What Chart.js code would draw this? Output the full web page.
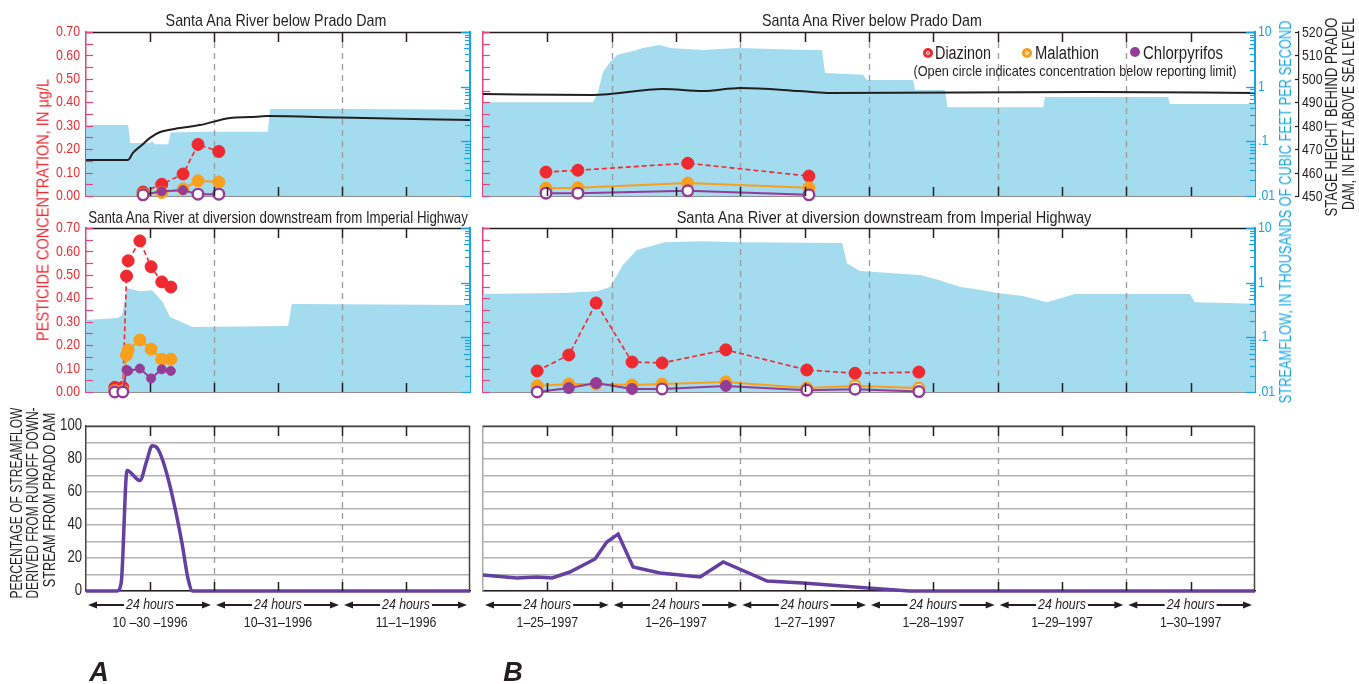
<!DOCTYPE html>
<html>
<head>
<meta charset="utf-8">
<script src="https://cdn.jsdelivr.net/npm/chart.js@4.4.1/dist/chart.umd.min.js"></script>
<style>
  body { margin: 0; background: #fff; }
  #wrap { position: relative; width: 1359px; height: 684px; overflow: hidden;
          font-family: "Liberation Sans", Arial, sans-serif; color: #231f20; }
  #wrap canvas { position: absolute; left: 0; top: 0; }
  .t { position: absolute; white-space: nowrap; line-height: 1; }
  .dot { position: absolute; border-radius: 50%; }
</style>
</head>
<body>
<div id="wrap">
  <canvas id="aTop" width="1359" height="684"></canvas>
  <canvas id="aMid" width="1359" height="684"></canvas>
  <canvas id="aBot" width="1359" height="684"></canvas>
  <canvas id="bTop" width="1359" height="684"></canvas>
  <canvas id="bMid" width="1359" height="684"></canvas>
  <canvas id="bBot" width="1359" height="684"></canvas>
</div>
<script>
// ---- data (hours since start of first day) ----
var aDays = ['10 \u201330 \u20131996', '10\u201331\u20131996', '11\u20131\u20131996'];
var bDays = ['1\u201325\u20131997', '1\u201326\u20131997', '1\u201327\u20131997', '1\u201328\u20131997', '1\u201329\u20131997', '1\u201330\u20131997'];

// A, below Prado Dam
var aTopFlowHours = [0, 7.9, 8.3, 12, 12.4, 12.9, 15.4, 15.9, 22, 34.1, 34.5, 50, 72];
var aTopFlow = [0.2, 0.2, 0.093, 0.093, 0.1, 0.088, 0.088, 0.145, 0.15, 0.15, 0.39, 0.39, 0.38];
var aTopStageHours = [0, 7.9, 8.8, 10.5, 12, 13.9, 17.6, 21.4, 27, 30.8, 34, 47.6, 72];
var aTopStage = [465.4, 465.4, 468.4, 471.8, 474.8, 477.3, 479, 480.3, 483.3, 483.7, 484.1, 483.5, 482.4];
var aTopSampleHours = [10.7, 14.2, 18.2, 21, 24.9];
var aTopDiazinon = [0.017, 0.05, 0.094, 0.22, 0.19];
var aTopDiazinonOpen = [0, 0, 0, 0, 0];
var aTopMalathion = [0.008, 0.015, 0.03, 0.065, 0.06];
var aTopMalathionOpen = [1, 0, 0, 0, 0];
var aTopChlorpyrifos = [0.005, 0.02, 0.025, 0.008, 0.008];
var aTopChlorpyrifosOpen = [1, 0, 0, 1, 1];

// A, diversion downstream from Imperial Highway
var aMidFlowHours = [0, 6, 6.75, 7.7, 10.1, 12.4, 14.4, 15.75, 20, 37.9, 38.6, 72];
var aMidFlow = [0.207, 0.225, 0.256, 0.8, 0.7, 0.73, 0.44, 0.235, 0.154, 0.161, 0.406, 0.389];
var aMidSampleHours = [5.4, 6.9, 7.6, 7.9, 10.1, 12.2, 14.2, 15.9];
var aMidDiazinon = [0.02, 0.02, 0.495, 0.56, 0.645, 0.535, 0.47, 0.448];
var aMidDiazinonOpen = [0, 0, 0, 0, 0, 0, 0, 0];
var aMidMalathion = [0.005, 0.005, 0.158, 0.18, 0.222, 0.183, 0.14, 0.14];
var aMidMalathionOpen = [1, 1, 0, 0, 0, 0, 0, 0];
var aMidChlorpyrifos = [0, 0, 0.094, 0.09, 0.1, 0.058, 0.097, 0.09];
var aMidChlorpyrifosOpen = [1, 1, 0, 0, 0, 0, 0, 0];

// A, percentage of streamflow from runoff
var aPctHours = [0, 5.8, 6.6, 7.7, 10.1, 11.4, 12.4, 13.5, 14.8, 16.3, 18, 19.1, 20, 72];
var aPct = [0, 0, 5, 73, 67, 79, 88, 86, 75, 56, 29, 8, 0, 0];

// B, below Prado Dam
var bTopFlowHours = [0, 20.5, 20.7, 21.4, 22.4, 23.7, 25, 28.7, 29.8, 33, 34.9, 41, 47.4, 60.4, 63.2, 63.8, 70.9, 71.6, 80.2, 80.6, 86.2, 86.6, 104.5, 104.8, 127.8, 128.1, 144];
var bTopFlow = [0.52, 0.52, 0.569, 0.764, 1.85, 2.82, 3.78, 4.7, 5.1, 5.77, 5.1, 4.7, 5.1, 4.7, 4.7, 1.77, 1.65, 1.32, 1.32, 0.87, 0.87, 0.42, 0.42, 0.65, 0.65, 0.48, 0.48];
var bTopStageHours = [0, 20.5, 33.6, 41, 48, 59, 64.2, 113.8, 144];
var bTopStage = [493.5, 493.1, 495.7, 494.8, 496.1, 494.8, 494, 494.4, 494];
var bTopSampleHours = [11.75, 17.7, 38.2, 60.8];
var bTopDiazinon = [0.102, 0.11, 0.14, 0.085];
var bTopDiazinonOpen = [0, 0, 0, 0];
var bTopMalathion = [0.033, 0.035, 0.055, 0.035];
var bTopMalathionOpen = [0, 0, 0, 0];
var bTopChlorpyrifos = [0.012, 0.012, 0.022, 0.005];
var bTopChlorpyrifosOpen = [1, 1, 1, 1];

// B, diversion downstream from Imperial Highway
var bMidFlowHours = [0, 14.9, 21.3, 23.7, 26.1, 28.7, 33.9, 41, 47.9, 67, 67.9, 70.3, 81.5, 85.2, 89, 92.1, 95.9, 100.7, 105.2, 110.4, 131.9, 132.8, 144];
var bMidFlow = [0.619, 0.65, 0.7, 0.83, 2.1, 3.96, 5.5, 5.7, 5.5, 5.3, 2.27, 1.63, 1.38, 1.11, 0.83, 0.76, 0.65, 0.57, 0.44, 0.62, 0.62, 0.44, 0.41];
var bMidSampleHours = [10.1, 16, 21.1, 27.8, 33.4, 45.3, 60.4, 69.4, 81.3];
var bMidDiazinon = [0.09, 0.158, 0.38, 0.128, 0.124, 0.18, 0.094, 0.08, 0.085];
var bMidDiazinonOpen = [0, 0, 0, 0, 0, 0, 0, 0, 0];
var bMidMalathion = [0.026, 0.034, 0.034, 0.03, 0.034, 0.043, 0.017, 0.026, 0.017];
var bMidMalathionOpen = [0, 0, 0, 0, 0, 0, 1, 1, 1];
var bMidChlorpyrifos = [0, 0.017, 0.038, 0.013, 0.013, 0.026, 0.008, 0.012, 0.002];
var bMidChlorpyrifosOpen = [1, 0, 0, 0, 1, 0, 1, 1, 1];

// B, percentage of streamflow from runoff
var bPctHours = [0, 6.3, 10, 12.9, 16.2, 20.9, 23.1, 25.2, 28, 33, 40.5, 44.8, 53, 59.7, 71.8, 79.6, 144];
var bPct = [9.7, 7.9, 8.5, 7.9, 11.5, 19.4, 29.7, 34.5, 14.5, 10.9, 8.5, 17.6, 6, 4.8, 1.8, 0, 0];

var concTicks = [0, 0.05, 0.1, 0.15, 0.2, 0.25, 0.3, 0.35, 0.4, 0.45, 0.5, 0.55, 0.6, 0.65, 0.7];
var concLabels = [0, 0.1, 0.2, 0.3, 0.4, 0.5, 0.6, 0.7];
var flowTicks = [0.01, 0.1, 1, 10];
var flowLabels = ['.01', '.1', '1', '10'];
var stageTicks = [450, 460, 470, 480, 490, 500, 510, 520];
var pctLabels = [0, 20, 40, 60, 80, 100];

// ---- styles ----
var FONT = '"Liberation Sans", Arial, sans-serif';
var NARROW = 0.82;
var RED = '#ee2a30', ORANGE = '#f8a01c', PURPLE = '#953c97', FLOW = '#a3dbef',
    BLUE = '#1aa5e0', PINK = '#e0477d', INK = '#231f20', PCT = '#6540a0';

Chart.defaults.font.family = FONT;
Chart.defaults.font.size = 15;
Chart.defaults.color = INK;

function pts(hours, vals) {
  return hours.map(function (h, i) { return { x: h, y: vals[i] }; });
}

function pest(hours, vals, open, color, r, dash) {
  return {
    data: pts(hours, vals), yAxisID: 'conc', order: 1, clip: false,
    borderColor: color, borderWidth: dash ? 1.6 : 2, borderDash: dash || [],
    pointBorderColor: color,
    pointBackgroundColor: open.map(function (o) { return o ? '#fff' : color; }),
    pointBorderWidth: open.map(function (o) { return o ? 2.4 : 1; }),
    pointRadius: open.map(function (o) { return o ? 5.3 : r; })
  };
}

function flowSet(hours, vals) {
  return { data: pts(hours, vals), yAxisID: 'flow', order: 10, fill: 'start',
           backgroundColor: FLOW, borderWidth: 0, pointRadius: 0 };
}

function stageSet(hours, vals) {
  return { data: pts(hours, vals), yAxisID: 'stage', order: 5, borderColor: INK,
           borderWidth: 2, pointRadius: 0, cubicInterpolationMode: 'monotone' };
}

function xScale(max) {
  return { type: 'linear', min: 0, max: max, ticks: { display: false }, grid: { display: false },
           border: { color: INK, width: 1.5 }, afterFit: function (s) { s.height = 0; } };
}

function concScales(max, box, stageOn) {
  return {
    x: xScale(max),
    conc: { type: 'linear', position: 'left', min: 0, max: 0.7,
            ticks: { display: false, stepSize: 0.1 },
            grid: { display: false, drawTicks: false }, border: { color: PINK, width: 1.5 },
            afterFit: function (s) { s.width = box.wL; } },
    flow: { type: 'logarithmic', position: 'right', min: 0.01, max: 10, weight: 0,
            ticks: { display: false },
            grid: { display: false, drawTicks: false }, border: { color: BLUE, width: 2 },
            afterFit: function (s) { s.width = box.wR; } },
    stage: { type: 'linear', position: 'right', min: 450, max: 520, weight: 1, display: stageOn,
             ticks: { display: false, stepSize: 10 },
             grid: { display: false, drawTicks: false }, border: { color: INK, width: 1.2 },
             afterFit: function (s) { s.width = box.wS; } }
  };
}

function pctScales(max, box, borderColor) {
  return {
    x: xScale(max),
    y: { type: 'linear', position: 'left', min: 0, max: 100,
         ticks: { display: false, stepSize: 10 },
         grid: { color: '#b3b3b3', lineWidth: 1.5, drawTicks: false },
         border: { color: borderColor, width: 1.5 },
         afterFit: function (s) { s.width = box.wL; } }
  };
}

function line(ctx, x0, y0, x1, y1) {
  ctx.beginPath(); ctx.moveTo(x0, y0); ctx.lineTo(x1, y1); ctx.stroke();
}

// condensed text, like the figure's narrow type
function ntext(ctx, str, x, y, align) {
  ctx.save();
  ctx.translate(x, y);
  ctx.scale(NARROW, 1);
  ctx.textAlign = align;
  ctx.textBaseline = 'middle';
  ctx.fillText(str, 0, 0);
  ctx.restore();
}

function arrow(ctx, from, tip, y) {
  var d = tip < from ? 1 : -1;
  line(ctx, from, y, tip + d * 6, y);
  ctx.beginPath();
  ctx.moveTo(tip, y); ctx.lineTo(tip + d * 9, y - 3.5); ctx.lineTo(tip + d * 9, y + 3.5);
  ctx.closePath(); ctx.fill();
}

function drawDays(chart) {
  var ctx = chart.ctx, a = chart.chartArea, xs = chart.scales.x;
  ctx.save();
  ctx.strokeStyle = '#9b9b9b'; ctx.lineWidth = 1.3; ctx.setLineDash([6, 5]);
  for (var h = 24; h < xs.max; h += 24) {
    var x = Math.round(xs.getPixelForValue(h)) + 0.5;
    line(ctx, x, a.top + 10, x, a.bottom);
  }
  ctx.restore();
}

var deco = {
  id: 'deco',
  beforeDatasetsDraw: function (chart, args, o) { if (o.under) drawDays(chart); },
  afterDatasetDraw: function (chart, args, o) { if (!o.under && args.index === 0) drawDays(chart); },
  afterDraw: function (chart, args, o) {
    var ctx = chart.ctx, a = chart.chartArea, xs = chart.scales.x, s = chart.scales;
    ctx.save();
    ctx.strokeStyle = o.frame; ctx.lineWidth = 1.5;
    line(ctx, a.left, a.top + 0.5, a.right, a.top + 0.5);
    if (o.rightFrame) line(ctx, a.right - 0.5, a.top, a.right - 0.5, a.bottom);
    // 12 hour ticks
    ctx.strokeStyle = INK; ctx.lineWidth = 1.5;
    for (var h = 12; h < xs.max; h += 12) {
      var x = Math.round(xs.getPixelForValue(h)) + 0.5;
      line(ctx, x, a.top, x, a.top + 10);
      line(ctx, x, a.bottom - 9, x, a.bottom);
    }
    ctx.font = '15px ' + FONT;
    if (s.conc) {
      ctx.strokeStyle = PINK; ctx.lineWidth = 1.2;
      concTicks.forEach(function (v) {
        var y = Math.round(s.conc.getPixelForValue(v)) + 0.5;
        line(ctx, a.left, y, a.left + 7, y);
      });
      if (o.concLabels) {
        ctx.fillStyle = RED;
        concLabels.forEach(function (v) {
          ntext(ctx, v.toFixed(2), a.left - 6, s.conc.getPixelForValue(v), 'right');
        });
      }
    }
    if (s.flow) {
      ctx.strokeStyle = BLUE; ctx.lineWidth = 1.2;
      [0.01, 0.1, 1].forEach(function (d) {
        for (var k = 1; k <= 10; k++) {
          var y = Math.round(s.flow.getPixelForValue(d * k)) + 0.5;
          var len = (k === 1 || k === 10) ? 9 : (k === 5 ? 6 : 5);
          line(ctx, a.right - len, y, a.right, y);
        }
      });
      if (o.flowLabels) {
        ctx.fillStyle = BLUE;
        flowTicks.forEach(function (v, i) {
          ntext(ctx, flowLabels[i], a.right + 3, s.flow.getPixelForValue(v), 'left');
        });
      }
    }
    if (s.stage && s.stage.options.display) {
      ctx.strokeStyle = INK; ctx.lineWidth = 1.2; ctx.fillStyle = INK;
      stageTicks.forEach(function (v) {
        var y = Math.round(s.stage.getPixelForValue(v)) + 0.5;
        line(ctx, s.stage.left - 4, y, s.stage.left, y);
        ntext(ctx, String(v), s.stage.left + 3, y, 'left');
      });
    }
    if (o.pctLabels) {
      ctx.fillStyle = INK; ctx.font = '16px ' + FONT;
      pctLabels.forEach(function (v) {
        ntext(ctx, String(v), a.left - 4, s.y.getPixelForValue(v), 'right');
      });
    }
    if (o.days) {
      ctx.fillStyle = INK; ctx.strokeStyle = INK; ctx.lineWidth = 2;
      o.days.forEach(function (label, i) {
        var x0 = xs.getPixelForValue(24 * i), x1 = xs.getPixelForValue(24 * (i + 1));
        var xc = (x0 + x1) / 2;
        ctx.font = 'italic 15px ' + FONT;
        var tw = ctx.measureText('24 hours').width * NARROW;
        ntext(ctx, '24 hours', xc, 605, 'center');
        arrow(ctx, xc - tw / 2 - 2, x0 + 2, 605);
        arrow(ctx, xc + tw / 2 + 2, x1 - 3, 605);
        ctx.font = '15px ' + FONT;
        ntext(ctx, label, xc, 623, 'center');
      });
    }
    ctx.restore();
  }
};

function panel(id, box, datasets, scales, o) {
  return new Chart(document.getElementById(id), {
    type: 'line',
    data: { datasets: datasets },
    options: {
      responsive: false, animation: false, events: [],
      layout: { padding: { left: box.l - box.wL, top: box.t,
                           right: 1359 - box.r - (box.wR || 0) - (box.wS || 0), bottom: 684 - box.b } },
      elements: { line: { tension: 0 } },
      plugins: { legend: { display: false }, tooltip: { enabled: false }, deco: o },
      scales: scales
    },
    plugins: [deco]
  });
}

var boxATop = { l: 86, r: 470, t: 32, b: 196, wL: 50, wR: 0, wS: 0 };
var boxAMid = { l: 86, r: 470, t: 228, b: 392, wL: 50, wR: 0, wS: 0 };
var boxABot = { l: 86, r: 470, t: 426, b: 591, wL: 50 };
var boxBTop = { l: 483, r: 1255, t: 32, b: 196, wL: 0, wR: 44, wS: 45 };
var boxBMid = { l: 483, r: 1255, t: 228, b: 392, wL: 0, wR: 44, wS: 0 };
var boxBBot = { l: 483, r: 1255, t: 426, b: 591, wL: 0 };

panel('aTop', boxATop, [
  pest(aTopSampleHours, aTopDiazinon, aTopDiazinonOpen, RED, 6, [5, 3]),
  pest(aTopSampleHours, aTopMalathion, aTopMalathionOpen, ORANGE, 6),
  pest(aTopSampleHours, aTopChlorpyrifos, aTopChlorpyrifosOpen, PURPLE, 4.5),
  stageSet(aTopStageHours, aTopStage),
  flowSet(aTopFlowHours, aTopFlow)
].reverse(), concScales(72, boxATop, false), { frame: INK, concLabels: true });

panel('aMid', boxAMid, [
  pest(aMidSampleHours, aMidDiazinon, aMidDiazinonOpen, RED, 6, [5, 3]),
  pest(aMidSampleHours, aMidMalathion, aMidMalathionOpen, ORANGE, 6),
  pest(aMidSampleHours, aMidChlorpyrifos, aMidChlorpyrifosOpen, PURPLE, 4.5),
  flowSet(aMidFlowHours, aMidFlow)
].reverse(), concScales(72, boxAMid, false), { frame: INK, concLabels: true });

panel('aBot', boxABot, [
  { data: pts(aPctHours, aPct), borderColor: PCT, borderWidth: 3.5, pointRadius: 0,
    cubicInterpolationMode: 'monotone', clip: false }
], pctScales(72, boxABot, '#444'), { under: true, frame: '#444', rightFrame: true, days: aDays, pctLabels: true });

panel('bTop', boxBTop, [
  pest(bTopSampleHours, bTopDiazinon, bTopDiazinonOpen, RED, 6, [5, 3]),
  pest(bTopSampleHours, bTopMalathion, bTopMalathionOpen, ORANGE, 6),
  pest(bTopSampleHours, bTopChlorpyrifos, bTopChlorpyrifosOpen, PURPLE, 5),
  stageSet(bTopStageHours, bTopStage),
  flowSet(bTopFlowHours, bTopFlow)
].reverse(), concScales(144, boxBTop, true), { frame: INK, flowLabels: true });

panel('bMid', boxBMid, [
  pest(bMidSampleHours, bMidDiazinon, bMidDiazinonOpen, RED, 6, [5, 3]),
  pest(bMidSampleHours, bMidMalathion, bMidMalathionOpen, ORANGE, 6),
  pest(bMidSampleHours, bMidChlorpyrifos, bMidChlorpyrifosOpen, PURPLE, 5.5),
  flowSet(bMidFlowHours, bMidFlow)
].reverse(), concScales(144, boxBMid, false), { frame: INK, flowLabels: true });

panel('bBot', boxBBot, [
  { data: pts(bPctHours, bPct), borderColor: PCT, borderWidth: 3.5, pointRadius: 0, clip: false }
], pctScales(144, boxBBot, '#aaa'), { under: true, frame: '#444', rightFrame: true, days: bDays });

// ---- static text ----
var wrap = document.getElementById('wrap');
function text(str, cx, cy, len, css, rot) {
  var d = document.createElement('div');
  d.className = 't';
  d.textContent = str;
  d.style.cssText += css;
  wrap.appendChild(d);
  var k = len ? len / d.offsetWidth : 1;
  d.style.left = cx + 'px';
  d.style.top = cy + 'px';
  d.style.transform = 'translate(-50%,-50%)' + (rot ? ' rotate(-90deg)' : '') + ' scaleX(' + k + ')';
  return d;
}
function dot(cx, cy, r, color, ring) {
  var d = document.createElement('div');
  d.className = 'dot';
  d.style.cssText = 'left:' + (cx - r) + 'px;top:' + (cy - r) + 'px;width:' + (2 * r) + 'px;height:' + (2 * r) + 'px;background:' + color + ';';
  wrap.appendChild(d);
  if (ring) {
    var i = document.createElement('div');
    i.className = 'dot';
    i.style.cssText = 'left:' + (cx - 2) + 'px;top:' + (cy - 2) + 'px;width:2px;height:2px;border:1px solid #fff;';
    wrap.appendChild(i);
  }
}

text('Santa Ana River below Prado Dam', 276, 20, 221, 'font-size:17px;');
text('Santa Ana River below Prado Dam', 872, 20, 220, 'font-size:17px;');
text('Santa Ana River at diversion downstream from Imperial Highway', 278, 217, 380, 'font-size:17px;');
text('Santa Ana River at diversion downstream from Imperial Highway', 884, 217, 415, 'font-size:17px;');

text('PESTICIDE CONCENTRATION, IN \u00b5g/L', 43, 210, 262, 'font-size:17px;color:' + RED + ';', true);
text('STREAMFLOW, IN THOUSANDS OF CUBIC FEET PER SECOND', 1286, 212, 383, 'font-size:16px;color:' + BLUE + ';', true);
text('STAGE HEIGHT BEHIND PRADO', 1332, 117, 199, 'font-size:16px;', true);
text('DAM, IN FEET ABOVE SEA LEVEL', 1349, 114, 192, 'font-size:16px;', true);
text('PERCENTAGE OF STREAMFLOW', 17, 503, 191, 'font-size:16px;', true);
text('DERIVED FROM RUNOFF DOWN-', 33, 503, 191, 'font-size:16px;', true);
text('STREAM FROM PRADO DAM', 50, 500, 175, 'font-size:16px;', true);

dot(928, 53, 5, RED, true);
text('Diazinon', 963, 53, 56, 'font-size:18px;');
dot(1027, 53, 5, ORANGE, true);
text('Malathion', 1067, 53, 64, 'font-size:18px;');
dot(1135, 52, 5, PURPLE, false);
text('Chlorpyrifos', 1183, 53, 80, 'font-size:18px;');
text('(Open circle indicates concentration below reporting limit)', 1075, 70, 323, 'font-size:15px;');

text('A', 99, 672, 0, 'font-weight:bold;font-style:italic;font-size:27px;');
text('B', 513, 672, 0, 'font-weight:bold;font-style:italic;font-size:27px;');
</script>
</body>
</html>
